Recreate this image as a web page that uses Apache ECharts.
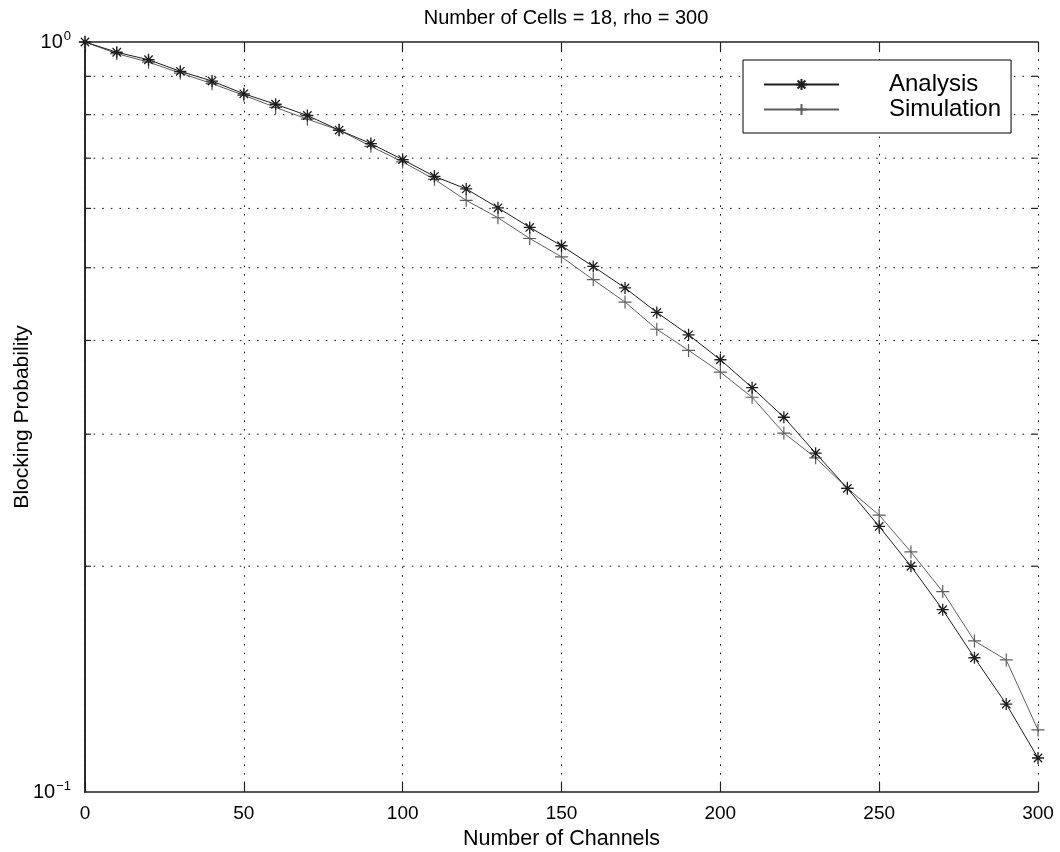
<!DOCTYPE html>
<html>
<head>
<meta charset="utf-8">
<script src="https://cdn.jsdelivr.net/npm/echarts@6/dist/echarts.min.js"></script>
<style>
  html, body { margin: 0; padding: 0; background: #ffffff; }
  #chart { width: 1060px; height: 852px; }
</style>
</head>
<body>
<div id="chart"></div>
<script>
// Number of channels on the x axis
const channels = [0, 10, 20, 30, 40, 50, 60, 70, 80, 90, 100, 110, 120, 130, 140, 150,
  160, 170, 180, 190, 200, 210, 220, 230, 240, 250, 260, 270, 280, 290, 300];

// Blocking probability from the analytical model
const analysis = [1.0, 0.969, 0.947, 0.914, 0.887, 0.853, 0.826, 0.798, 0.763, 0.732,
  0.697, 0.662, 0.637, 0.601, 0.566, 0.535, 0.502, 0.470, 0.436, 0.407,
  0.377, 0.346, 0.316, 0.283, 0.254, 0.226, 0.200, 0.175, 0.151, 0.131, 0.111];

// Blocking probability measured in simulation
const simulation = [1.0, 0.965, 0.940, 0.909, 0.880, 0.849, 0.818, 0.789, 0.763, 0.726,
  0.692, 0.656, 0.615, 0.583, 0.547, 0.517, 0.482, 0.450, 0.414, 0.388,
  0.363, 0.336, 0.301, 0.279, 0.254, 0.234, 0.209, 0.185, 0.159, 0.150, 0.121];

// Intermediate decade values that get dotted grid lines and inner ticks
const minorYValues = [0.2, 0.3, 0.4, 0.5, 0.6, 0.7, 0.8, 0.9];

const xMin = 0, xMax = 300, xStep = 50;
const yMin = 0.1, yMax = 1;

const FONT = '"Liberation Sans", Arial, Helvetica, sans-serif';
const AXIS_COLOR = '#222222';
const GRID_COLOR = '#111111';
const DOT = [1.6, 7];

const asteriskPath = 'path://M0,-10L0,10M-10,0L10,0M-7,-7L7,7M-7,7L7,-7';
const plusPath = 'path://M0,-10L0,10M-10,0L10,0';

function pairs(xs, ys) { return xs.map((x, i) => [x, ys[i]]); }

function decadeLabel(v) {
  const p = Math.round(Math.log10(v));
  if (Math.abs(Math.pow(10, p) - v) > 1e-9) return '';
  return '{b|10}{s|' + (p < 0 ? '\u2212' + (-p) : p) + '}';
}

const chart = echarts.init(document.getElementById('chart'), null, { renderer: 'canvas' });

const option = {
  animation: false,
  backgroundColor: '#ffffff',
  title: {
    text: 'Number of Cells = 18, rho = 300',
    left: 561,
    textAlign: 'center',
    top: 3,
    textStyle: { fontFamily: FONT, fontSize: 20, fontWeight: 'normal', color: '#000' }
  },
  grid: { left: 85, right: 22, top: 42, bottom: 60, containLabel: false, outerBoundsMode: 'none' },
  legend: {
    orient: 'vertical',
    left: 743,
    top: 60,
    padding: [12, 10, 11, 20],
    itemGap: 0,
    itemWidth: 75,
    itemHeight: 14,
    backgroundColor: '#ffffff',
    borderColor: '#000000',
    borderWidth: 1,
    borderRadius: 0,
    selectedMode: false,
    textStyle: { fontFamily: FONT, fontSize: 24, lineHeight: 25, color: '#000', padding: [0, 0, 0, 45] },
    data: ['Analysis', 'Simulation']
  },
  xAxis: [
    {
      type: 'value', min: xMin, max: xMax, interval: xStep,
      name: 'Number of Channels', nameLocation: 'middle', nameGap: 33,
      nameTextStyle: { fontFamily: FONT, fontSize: 21.5, color: '#000' },
      axisLine: { show: true, lineStyle: { color: AXIS_COLOR, width: 1.6 } },
      axisTick: { show: true, inside: true, length: 9, lineStyle: { color: AXIS_COLOR, width: 1.2 } },
      axisLabel: { fontFamily: FONT, fontSize: 19, color: '#000', margin: 12 },
      splitLine: { show: true, lineStyle: { color: GRID_COLOR, width: 1, type: DOT } }
    },
    {
      type: 'value', position: 'top', min: xMin, max: xMax, interval: xStep,
      axisLine: { show: true, lineStyle: { color: AXIS_COLOR, width: 1.6 } },
      axisTick: { show: true, inside: true, length: 9, lineStyle: { color: AXIS_COLOR, width: 1.2 } },
      axisLabel: { show: false },
      splitLine: { show: false }
    }
  ],
  yAxis: [
    {
      type: 'log', logBase: 10, min: yMin, max: yMax,
      name: 'Blocking Probability', nameLocation: 'middle', nameGap: 52, nameRotate: 90,
      nameMoveOverlap: false,
      nameTextStyle: { fontFamily: FONT, fontSize: 21, color: '#000' },
      axisLine: { show: true, lineStyle: { color: AXIS_COLOR, width: 1.6 } },
      axisTick: { show: false },
      splitLine: { show: false },
      axisLabel: {
        margin: 14,
        formatter: decadeLabel,
        rich: {
          b: { fontFamily: FONT, fontSize: 20, color: '#000', lineHeight: 24 },
          s: { fontFamily: FONT, fontSize: 13, color: '#000', lineHeight: 24, padding: [0, 0, 12, 1] }
        }
      }
    },
    {
      type: 'log', logBase: 10, min: yMin, max: yMax, position: 'right',
      axisLine: { show: true, lineStyle: { color: AXIS_COLOR, width: 1.6 } },
      axisTick: { show: false },
      axisLabel: { show: false },
      splitLine: { show: false }
    }
  ],
  series: [
    {
      // dotted grid lines and inner ticks at 0.2 ... 0.9
      type: 'custom',
      silent: true,
      z: 1,
      xAxisIndex: 0,
      yAxisIndex: 0,
      data: minorYValues.map(v => [xMin, v]),
      renderItem: function (params, api) {
        const v = api.value(1);
        const a = api.coord([xMin, v]);
        const b = api.coord([xMax, v]);
        const tick = { stroke: AXIS_COLOR, lineWidth: 1.2 };
        return {
          type: 'group',
          children: [
            { type: 'line', shape: { x1: a[0], y1: a[1], x2: b[0], y2: b[1] },
              style: { stroke: GRID_COLOR, lineWidth: 1, lineDash: DOT } },
            { type: 'line', shape: { x1: a[0], y1: a[1], x2: a[0] + 6, y2: a[1] }, style: tick },
            { type: 'line', shape: { x1: b[0] - 6, y1: b[1], x2: b[0], y2: b[1] }, style: tick }
          ]
        };
      }
    },
    {
      name: 'Analysis',
      type: 'line',
      z: 3,
      data: pairs(channels, analysis),
      symbol: asteriskPath,
      symbolSize: 12,
      showAllSymbol: true,
      lineStyle: { color: '#1e1e1e', width: 1 },
      itemStyle: { color: 'transparent', borderColor: '#1e1e1e', borderWidth: 1.3 },
      emphasis: { disabled: true }
    },
    {
      name: 'Simulation',
      type: 'line',
      z: 2,
      data: pairs(channels, simulation),
      symbol: plusPath,
      symbolSize: 13,
      showAllSymbol: true,
      lineStyle: { color: '#5e5e5e', width: 1 },
      itemStyle: { color: 'transparent', borderColor: '#5e5e5e', borderWidth: 1.2 },
      emphasis: { disabled: true }
    }
  ]
};

chart.setOption(option);
</script>
</body>
</html>
